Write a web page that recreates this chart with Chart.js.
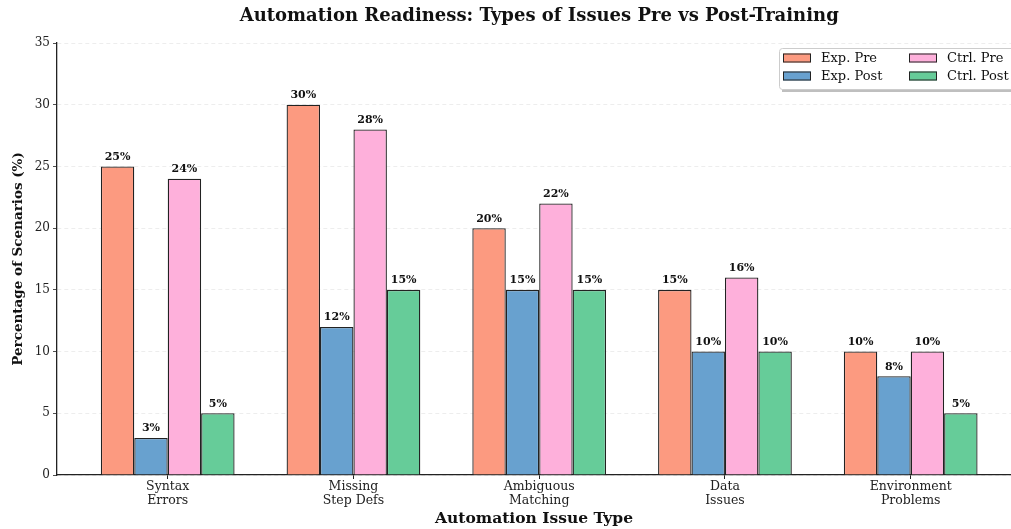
<!DOCTYPE html>
<html>
<head>
<meta charset="utf-8">
<style>
  html, body { margin: 0; padding: 0; background: #fff; }
  #wrap { width: 1011px; height: 529px; }
</style>
<script src="https://cdn.jsdelivr.net/npm/chart.js@4.4.1/dist/chart.umd.min.js"></script>
</head>
<body>
<div id="wrap"><canvas id="issuesChart" width="1011" height="529"></canvas></div>
<script>
// categories and series
const categories = [['Syntax', 'Errors'], ['Missing', 'Step Defs'], ['Ambiguous', 'Matching'], ['Data', 'Issues'], ['Environment', 'Problems']];
const seriesNames = ['Exp. Pre', 'Exp. Post', 'Ctrl. Pre', 'Ctrl. Post'];
const expPre = [25, 30, 20, 15, 10];
const expPost = [3, 12, 15, 10, 8];
const ctrlPre = [24, 28, 22, 16, 10];
const ctrlPost = [5, 15, 15, 10, 5];
const yTicks = [0, 5, 10, 15, 20, 25, 30, 35];

const colors = ['#fc9a80', '#68a1cf', '#feb0db', '#66cc99'];
const serif = "'DejaVu Serif', 'Liberation Serif', serif";

const allSeries = [expPre, expPost, ctrlPre, ctrlPost];

// x as linear axis so the left margin / cropped right side match the picture
const datasets = allSeries.map((vals, i) => ({
  label: seriesNames[i],
  data: vals.map((v, k) => ({ x: k, y: v })),
  backgroundColor: colors[i],
  borderColor: '#222',
  borderWidth: 1.3,
  borderSkipped: 'bottom',
  categoryPercentage: 0.72,
  barPercentage: 1.0
}));

// value labels above bars
const valueLabels = {
  id: 'valueLabels',
  afterDatasetsDraw(chart) {
    const ctx = chart.ctx;
    ctx.save();
    ctx.font = 'bold 11px ' + serif;
    ctx.fillStyle = '#111';
    ctx.textAlign = 'center';
    ctx.textBaseline = 'bottom';
    chart.data.datasets.forEach((ds, i) => {
      chart.getDatasetMeta(i).data.forEach((bar, k) => {
        ctx.fillText(ds.data[k].y + '%', bar.x, bar.y - 4);
      });
    });
    ctx.restore();
  }
};

// title + legend box drawn by hand (legend sits inside the plot, 2 columns, shadow)
const decor = {
  id: 'decor',
  afterDraw(chart) {
    const ctx = chart.ctx;
    const xs = chart.scales.x;
    ctx.save();
    ctx.font = 'bold 18px ' + serif;
    ctx.fillStyle = '#111';
    ctx.textAlign = 'center';
    ctx.textBaseline = 'middle';
    ctx.fillText('Automation Readiness: Types of Issues Pre vs Post-Training', xs.getPixelForValue(2), 16);

    // legend
    const bx = 779, by = 48, bw = 250, bh = 41;
    ctx.fillStyle = 'rgba(0,0,0,0.25)';
    ctx.fillRect(bx + 3, by + 3, bw, bh);
    ctx.fillStyle = '#fff';
    ctx.strokeStyle = '#cccccc';
    ctx.lineWidth = 1;
    ctx.beginPath();
    ctx.roundRect(bx + 0.5, by + 0.5, bw, bh, 3);
    ctx.fill();
    ctx.stroke();

    ctx.font = '13px ' + serif;
    ctx.textAlign = 'left';
    const cols = [783, 909];
    const rows = [57.5, 75.5];
    chart.data.datasets.forEach((ds, i) => {
      const cx = cols[Math.floor(i / 2)];
      const cy = rows[i % 2];
      ctx.fillStyle = ds.backgroundColor;
      ctx.fillRect(cx, cy - 4, 28, 9);
      ctx.strokeStyle = '#222';
      ctx.lineWidth = 1;
      ctx.strokeRect(cx + 0.5, cy - 3.5, 27, 8);
      ctx.fillStyle = '#111';
      ctx.fillText(ds.label, cx + 38, cy + 1);
    });
    ctx.restore();
  }
};

new Chart(document.getElementById('issuesChart'), {
  type: 'bar',
  data: { datasets },
  options: {
    responsive: false,
    devicePixelRatio: 1,
    animation: false,
    layout: { padding: { top: 43, right: 0, bottom: 0, left: 0 } },
    plugins: {
      legend: { display: false },
      tooltip: { enabled: false }
    },
    scales: {
      x: {
        type: 'linear',
        offset: false,
        min: -0.596,
        max: 4.54,
        afterFit: s => { s.height = 54; },
        ticks: {
          stepSize: 1,
          includeBounds: false,
          autoSkip: false,
          maxRotation: 0,
          padding: 1,
          color: '#222',
          font: { family: serif, size: 12.5, lineHeight: 1.12 },
          callback: v => categories[v] || ''
        },
        grid: { offset: false, drawOnChartArea: false, drawTicks: true, tickLength: 4, tickColor: '#222' },
        border: { color: '#222', width: 1.3 },
        title: {
          display: true,
          text: 'Automation Issue Type',
          color: '#111',
          font: { family: serif, size: 15.5, weight: 'bold' },
          padding: { top: 0, bottom: 1 }
        }
      },
      y: {
        min: 0,
        max: 35,
        afterFit: s => { s.width = 57; },
        afterBuildTicks: s => { s.ticks = yTicks.map(v => ({ value: v })); },
        ticks: {
          padding: 3,
          color: '#222',
          font: { family: serif, size: 12 }
        },
        grid: { color: 'rgba(0,0,0,0.09)', lineWidth: 0.8, drawTicks: true, tickLength: 4, tickColor: '#222' },
        border: { color: '#222', width: 1.3, dash: [4, 3] },
        title: {
          display: true,
          text: 'Percentage of Scenarios (%)',
          color: '#111',
          font: { family: serif, size: 13.5, weight: 'bold' },
          padding: { top: 10, bottom: 0 }
        }
      }
    }
  },
  plugins: [valueLabels, decor]
});
</script>
</body>
</html>
